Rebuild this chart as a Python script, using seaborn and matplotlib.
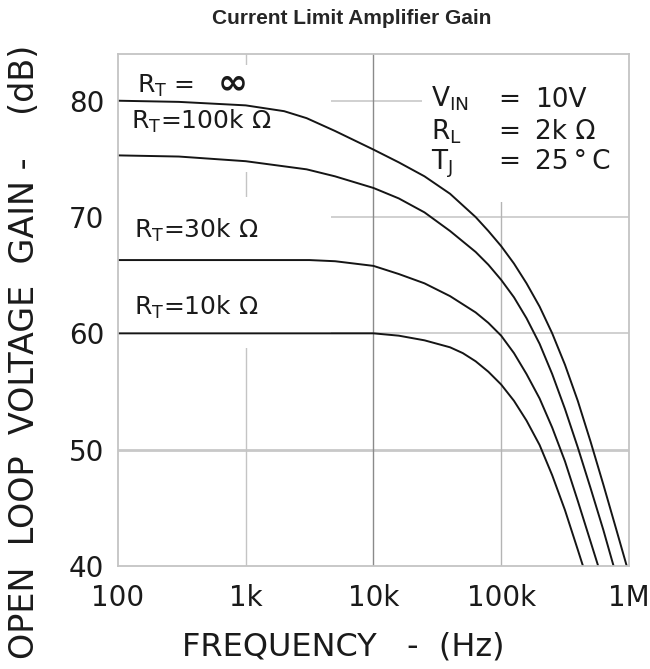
import matplotlib
matplotlib.use("Agg")
import matplotlib.pyplot as plt
from matplotlib.patches import Rectangle
import pandas as pd
import seaborn as sns

# values (frequency in Hz, gain in dB)
inf_freq = [100, 300, 1e3, 2e3, 3e3, 5e3, 1e4, 1.58e4, 2.51e4, 3.98e4, 6.31e4, 7.94e4, 1e5,
            1.26e5, 1.58e5, 2e5, 2.51e5, 3.16e5, 3.98e5, 5.01e5, 6.31e5, 7.94e5, 9.62e5]
inf_gain = [80.0, 79.9, 79.6, 79.1, 78.5, 77.4, 75.8, 74.7, 73.5, 72.0, 70.0, 68.8, 67.5,
            66.0, 64.3, 62.3, 60.0, 57.3, 54.2, 50.7, 47.0, 43.2, 40.0]

r100k_freq = [100, 300, 1e3, 3e3, 5e3, 1e4, 1.58e4, 2.51e4, 3.98e4, 6.31e4, 7.94e4, 1e5,
              1.26e5, 1.58e5, 2e5, 2.51e5, 3.16e5, 3.98e5, 5.01e5, 6.31e5, 7.59e5]
r100k_gain = [75.3, 75.2, 74.8, 74.1, 73.5, 72.5, 71.6, 70.4, 68.8, 67.0, 65.9, 64.6,
              63.1, 61.3, 59.1, 56.5, 53.5, 50.2, 46.7, 43.1, 40.0]

r30k_freq = [100, 1e3, 3.16e3, 5.01e3, 1e4, 1.58e4, 2.51e4, 3.98e4, 6.31e4, 7.94e4, 1e5,
             1.26e5, 1.58e5, 2e5, 2.51e5, 3.16e5, 3.98e5, 5.01e5, 5.75e5]
r30k_gain = [66.3, 66.3, 66.3, 66.2, 65.8, 65.1, 64.3, 63.2, 61.8, 60.9, 59.8,
             58.3, 56.5, 54.4, 51.9, 49.0, 45.6, 42.1, 40.0]

r10k_freq = [100, 1e3, 1e4, 1.58e4, 2.51e4, 3.98e4, 5.01e4, 6.31e4, 7.94e4, 1e5, 1.26e5,
             1.58e5, 2e5, 2.51e5, 3.16e5, 3.98e5, 4.37e5]
r10k_gain = [60.0, 60.0, 60.0, 59.8, 59.4, 58.8, 58.3, 57.6, 56.7, 55.6, 54.2,
             52.5, 50.4, 47.8, 44.8, 41.4, 40.0]

x_ticks = [100, 1e3, 1e4, 1e5, 1e6]
x_ticklabels = ["100", "1k", "10k", "100k", "1M"]
y_ticks = [40, 50, 60, 70, 80]

frames = []
for name, f, g in [("inf", inf_freq, inf_gain), ("100k", r100k_freq, r100k_gain),
                   ("30k", r30k_freq, r30k_gain), ("10k", r10k_freq, r10k_gain)]:
    frames.append(pd.DataFrame({"freq": f, "gain": g, "rt": name}))
df = pd.concat(frames, ignore_index=True)

sns.set_theme(style="white")
plt.rcParams["font.family"] = ["DejaVu Sans"]
plt.rcParams["mathtext.fontset"] = "dejavusans"

ink = "#1a1a1a"
fig = plt.figure(figsize=(6.5, 6.69), dpi=100)
ax = fig.add_axes([0.1815, 0.154, 0.786, 0.765])

# grid lines
for yv, lw in [(50, 2.0), (60, 1.2), (70, 1.2), (80, 1.2)]:
    ax.axhline(yv, color="#c8c8c8", lw=lw, zorder=0.5)
ax.axvline(1e3, color="#c4c4c4", lw=1.0, zorder=0.5)
ax.axvline(1e4, color="#8a8a8a", lw=1.0, zorder=0.5)
ax.axvline(1e5, color="#b4b4b4", lw=1.0, zorder=0.5)

# white panels behind the labels (they hide the grid there)
for x0, y0, w, h in [(0.0, 0.770, 0.417, 0.209), (0.0, 0.426, 0.417, 0.295),
                     (0.595, 0.711, 0.405, 0.289)]:
    ax.add_patch(Rectangle((x0, y0), w, h, transform=ax.transAxes,
                           facecolor="white", edgecolor="none", zorder=1))

sns.lineplot(data=df, x="freq", y="gain", hue="rt", units="rt", estimator=None,
             sort=False, palette=["#151515"] * 4, legend=False, lw=1.4, ax=ax, zorder=2)

ax.set_xscale("log")
ax.set_xlim(100, 1e6)
ax.set_ylim(40, 84)
ax.set_xticks(x_ticks)
ax.set_xticklabels(x_ticklabels)
ax.minorticks_off()
ax.set_yticks(y_ticks)
ax.tick_params(axis="both", length=0, labelsize=20, colors=ink)
ax.tick_params(axis="x", pad=13)
ax.tick_params(axis="y", pad=10)
for s in ax.spines.values():
    s.set_color("#c4c4c4")
    s.set_linewidth(1.3)
    s.set_zorder(3)

ax.set_xlabel("FREQUENCY   -  (Hz)", fontsize=23, color=ink)
ax.xaxis.set_label_coords(0.441, -0.129)
ax.set_ylabel("OPEN  LOOP  VOLTAGE  GAIN -    (dB)", fontsize=24, color=ink)
ax.yaxis.set_label_coords(-0.150, 0.418)

lab_kw = dict(transform=ax.transAxes, fontsize=18, color=ink, va="baseline", ha="left",
              zorder=4)
ax.text(0.038, 0.924, r"R$_\mathregular{T}$ =", **lab_kw)
ax.text(0.195, 0.924, "∞", transform=ax.transAxes, fontsize=26, fontweight="bold",
        color=ink, va="baseline", ha="left", zorder=4)
ax.text(0.026, 0.8535, r"R$_\mathregular{T}$=100k Ω", **lab_kw)
ax.text(0.032, 0.6406, r"R$_\mathregular{T}$=30k Ω", **lab_kw)
ax.text(0.032, 0.490, r"R$_\mathregular{T}$=10k Ω", **lab_kw)

cond_kw = dict(lab_kw, fontsize=19)
for yy, left, val in [(0.897, r"V$_\mathregular{IN}$", "10V"),
                      (0.834, r"R$_\mathregular{L}$", "2k Ω"),
                      (0.775, r"T$_\mathregular{J}$", "25\u2009°\u2009C")]:
    ax.text(0.612, yy, left, **cond_kw)
    ax.text(0.744, yy, "=", **cond_kw)
    ax.text(0.816, yy, val, **cond_kw)

fig.suptitle("Current Limit Amplifier Gain", fontsize=15, fontweight="bold",
             family="Liberation Sans", x=0.541, y=0.987, va="top")

fig.savefig("out.png", dpi=100)
